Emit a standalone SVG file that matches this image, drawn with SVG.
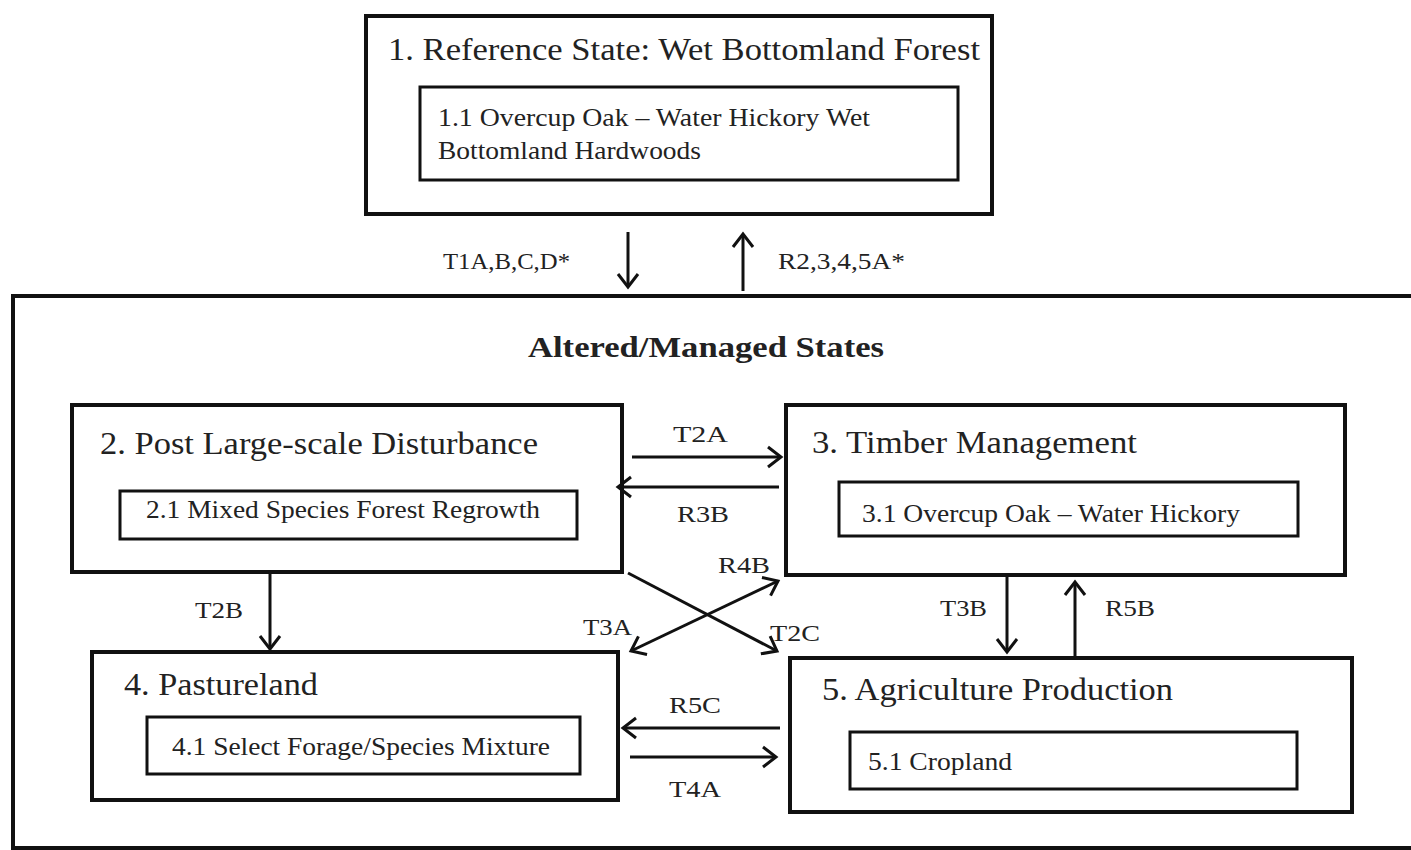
<svg xmlns="http://www.w3.org/2000/svg" width="1411" height="850" viewBox="0 0 1411 850" font-family="Liberation Serif, Times New Roman, serif">
<style>
.bg{fill:#fff}
.outer{fill:none;stroke:#111;stroke-width:4}
.inner{fill:none;stroke:#111;stroke-width:3}
.t{fill:#222}
.h{font-size:31px}
.s{font-size:25px}
.lb{font-size:23px}
.b{font-weight:bold;font-size:29px}
.c{stroke:#111;stroke-width:3;fill:none}
</style>
<defs>
<marker id="ah" viewBox="-16 -12 20 24" refX="0" refY="0" markerWidth="20" markerHeight="24" markerUnits="userSpaceOnUse" orient="auto-start-reverse" overflow="visible">
<path d="M -13 -10 L 0 0 L -13 10" fill="none" stroke="#111" stroke-width="3"/>
</marker>
</defs>
<rect class="bg" x="0" y="0" width="1411" height="850"/>
<g id="altered">
<rect x="13" y="296" width="1420" height="552" fill="none" stroke="#111" stroke-width="4"/>
<text class="t b" x="528" y="357" textLength="356" lengthAdjust="spacingAndGlyphs">Altered/Managed States</text>
</g>
<g id="state1">
<rect class="outer" x="366" y="16" width="626" height="198"/>
<text class="t h" x="388" y="60" textLength="592" lengthAdjust="spacingAndGlyphs">1. Reference State: Wet Bottomland Forest</text>
<rect class="inner" x="420" y="87" width="538" height="93"/>
<text class="t s" x="438" y="126" textLength="432" lengthAdjust="spacingAndGlyphs">1.1 Overcup Oak – Water Hickory Wet</text>
<text class="t s" x="438" y="159" textLength="263" lengthAdjust="spacingAndGlyphs">Bottomland Hardwoods</text>
</g>
<g id="state2">
<rect class="outer" x="72" y="405" width="550" height="167"/>
<text class="t h" x="100" y="454" textLength="438" lengthAdjust="spacingAndGlyphs">2. Post Large-scale Disturbance</text>
<rect class="inner" x="120" y="491" width="457" height="48"/>
<text class="t s" x="146" y="518" textLength="394" lengthAdjust="spacingAndGlyphs">2.1 Mixed Species Forest Regrowth</text>
</g>
<g id="state3">
<rect class="outer" x="786" y="405" width="559" height="170"/>
<text class="t h" x="812" y="453" textLength="325" lengthAdjust="spacingAndGlyphs">3. Timber Management</text>
<rect class="inner" x="839" y="482" width="459" height="54"/>
<text class="t s" x="862" y="522" textLength="378" lengthAdjust="spacingAndGlyphs">3.1 Overcup Oak – Water Hickory</text>
</g>
<g id="state4">
<rect class="outer" x="92" y="652" width="526" height="148"/>
<text class="t h" x="124" y="695" textLength="194" lengthAdjust="spacingAndGlyphs">4. Pastureland</text>
<rect class="inner" x="147" y="717" width="433" height="57"/>
<text class="t s" x="172" y="755" textLength="378" lengthAdjust="spacingAndGlyphs">4.1 Select Forage/Species Mixture</text>
</g>
<g id="state5">
<rect class="outer" x="790" y="658" width="562" height="154"/>
<text class="t h" x="822" y="700" textLength="351" lengthAdjust="spacingAndGlyphs">5. Agriculture Production</text>
<rect class="inner" x="850" y="732" width="447" height="57"/>
<text class="t s" x="868" y="770" textLength="144" lengthAdjust="spacingAndGlyphs">5.1 Cropland</text>
</g>
<g id="connectors">
<line class="c" x1="628" y1="232" x2="628" y2="287" marker-end="url(#ah)"/>
<line class="c" x1="743" y1="291" x2="743" y2="234" marker-end="url(#ah)"/>
<line class="c" x1="632" y1="457" x2="781" y2="457" marker-end="url(#ah)"/>
<line class="c" x1="779" y1="487" x2="618" y2="487" marker-end="url(#ah)"/>
<line class="c" x1="270" y1="573" x2="270" y2="649" marker-end="url(#ah)"/>
<line class="c" x1="628" y1="573" x2="777" y2="651" marker-end="url(#ah)"/>
<line class="c" x1="631" y1="651" x2="778" y2="581" marker-start="url(#ah)" marker-end="url(#ah)"/>
<line class="c" x1="1007" y1="577" x2="1007" y2="652" marker-end="url(#ah)"/>
<line class="c" x1="1075" y1="656" x2="1075" y2="582" marker-end="url(#ah)"/>
<line class="c" x1="780" y1="728" x2="623" y2="728" marker-end="url(#ah)"/>
<line class="c" x1="630" y1="757" x2="776" y2="757" marker-end="url(#ah)"/>
<text class="t lb" x="443" y="269" textLength="127" lengthAdjust="spacingAndGlyphs">T1A,B,C,D*</text>
<text class="t lb" x="778" y="269" textLength="127" lengthAdjust="spacingAndGlyphs">R2,3,4,5A*</text>
<text class="t lb" x="673" y="442" textLength="55" lengthAdjust="spacingAndGlyphs">T2A</text>
<text class="t lb" x="677" y="522" textLength="52" lengthAdjust="spacingAndGlyphs">R3B</text>
<text class="t lb" x="195" y="618" textLength="48" lengthAdjust="spacingAndGlyphs">T2B</text>
<text class="t lb" x="718" y="573" textLength="52" lengthAdjust="spacingAndGlyphs">R4B</text>
<text class="t lb" x="583" y="635" textLength="49" lengthAdjust="spacingAndGlyphs">T3A</text>
<text class="t lb" x="770" y="641" textLength="50" lengthAdjust="spacingAndGlyphs">T2C</text>
<text class="t lb" x="940" y="616" textLength="47" lengthAdjust="spacingAndGlyphs">T3B</text>
<text class="t lb" x="1105" y="616" textLength="50" lengthAdjust="spacingAndGlyphs">R5B</text>
<text class="t lb" x="669" y="713" textLength="52" lengthAdjust="spacingAndGlyphs">R5C</text>
<text class="t lb" x="669" y="797" textLength="52" lengthAdjust="spacingAndGlyphs">T4A</text>
</g>
</svg>
